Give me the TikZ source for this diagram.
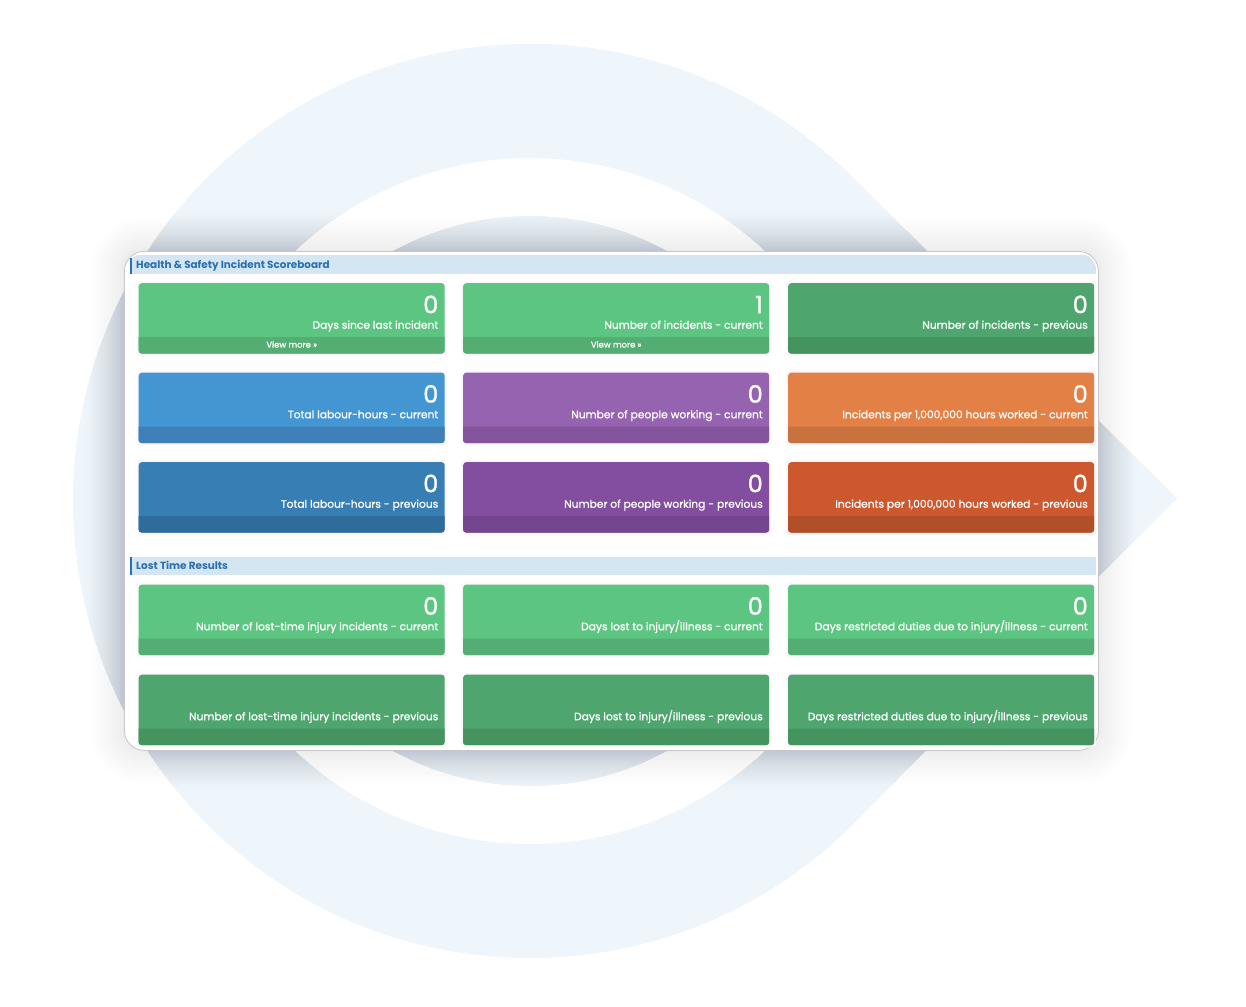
\documentclass[tikz,border=0pt]{standalone}
\usepackage{fontspec}
\setmainfont{Poppins}
\newfontfamily\heavyfont[FakeBold=1.1]{Poppins}
\definecolor{ringc}{HTML}{EEF5FB}
\definecolor{headc}{HTML}{D5E6F3}
\definecolor{headt}{HTML}{2A6FAF}
\definecolor{shada}{HTML}{303048}
\definecolor{shadb}{HTML}{1E4A60}
\definecolor{glowc}{HTML}{FDF7FC}
\definecolor{gA}{HTML}{5CC581}\definecolor{gB}{HTML}{54AD72}
\definecolor{dA}{HTML}{4EA56E}\definecolor{dB}{HTML}{45945F}
\definecolor{bA}{HTML}{4496D3}\definecolor{bB}{HTML}{3F80B8}
\definecolor{nA}{HTML}{367EB3}\definecolor{nB}{HTML}{2F6C9B}
\definecolor{pA}{HTML}{9563B0}\definecolor{pB}{HTML}{84559C}
\definecolor{qA}{HTML}{844EA0}\definecolor{qB}{HTML}{744690}
\definecolor{oA}{HTML}{E28046}\definecolor{oB}{HTML}{C8723F}
\definecolor{rA}{HTML}{CD582D}\definecolor{rB}{HTML}{B04F28}
\tikzset{
  x=1pt,y=1pt,
  cardbox/.style={anchor=north west,minimum width=306pt,minimum height=70.5pt,inner sep=0pt,rounded corners=3pt},
  numtext/.style={anchor=mid east,inner sep=0pt,text=white,font=\fontsize{24}{24}\heavyfont},
  labtext/.style={anchor=mid east,inner sep=0pt,text=white,font=\fontsize{10.7}{12}\heavyfont},
  viewtext/.style={inner sep=0pt,text=white,font=\fontsize{8.4}{9}\heavyfont},
  headtext/.style={anchor=mid west,inner sep=0pt,text=headt,font=\fontsize{10.4}{12}\selectfont\bfseries},
}
\newcommand\ringpath{(853.2,-177.8) arc[start angle=45,end angle=315,radius=457pt] -- (1177,-498) -- cycle
  (873,-501) arc[start angle=0,end angle=-360,radius=343pt] -- cycle
  (815,-501) arc[start angle=0,end angle=360,radius=285pt] -- cycle}
\newcommand\mycard[7]{%
  \fill[glowc,rounded corners=3pt] (#2-2,-#3+2) rectangle (#2+308,-#3-73);
  \node[cardbox,fill=#4] (#1) at (#2,-#3) {};
  \fill[#5] (#2,-#3-54) -- (#2+306,-#3-54) [rounded corners=3pt] -- (#2+306,-#3-70.5) -- (#2,-#3-70.5) [sharp corners] -- cycle;
  \node[numtext] (#1n) at (#2+300,-#3-27.5) {#6};
  \node[labtext] (#1l) at (#2+300,-#3-43) {#7};
}
\begin{document}
\begin{tikzpicture}
\useasboundingbox (0,0) rectangle (1246,-1006);
\fill[white] (0,0) rectangle (1246,-1006);
% ring with arrow tip
\fill[ringc] \ringpath;
% soft shadow, everywhere
\foreach \e in {60,58,...,0}{
  \pgfmathsetmacro\a{0.0066*(1-\e/62)^1.5}
  \pgfmathsetmacro\r{20+\e}
  \fill[shada,fill opacity=\a,rounded corners=\r pt] (124-\e,-251+\e) rectangle (1098+\e,-750-\e);
}
% stronger over the ring
\begin{scope}
\clip \ringpath;
\foreach \e in {60,58,...,0}{
  \pgfmathsetmacro\a{0.0095*(1-\e/62)^1.5}
  \pgfmathsetmacro\r{20+\e}
  \fill[shadb,fill opacity=\a,rounded corners=\r pt] (124-\e,-251+\e) rectangle (1098+\e,-750-\e);
}
\end{scope}
% panel
\node[anchor=north west,minimum width=974pt,minimum height=499pt,inner sep=0pt,rounded corners=20pt,fill=white,draw=black!22!white,line width=0.8pt] (panel) at (124,-251) {};
\begin{scope}
\clip[rounded corners=18pt] (126.5,-253.5) rectangle (1096.5,-747.5);
\fill[headc] (132,-255) rectangle (1097,-273.5);
\fill[headc] (132,-556.5) rectangle (1097,-575);
\end{scope}
\fill[headt] (129.5,-258) rectangle (132,-274);
\fill[headt] (129.5,-556.5) rectangle (132,-575);
\node[headtext] (h1) at (136,-265.5) {Health \& Safety Incident Scoreboard};
\node[headtext] (h2) at (136,-567) {Lost Time Results};
% cards
\mycard{a1}{138.5}{283}{gA}{gB}{0}{Days since last incident}
\mycard{a2}{463}{283}{gA}{gB}{1}{Number of incidents - current}
\mycard{a3}{788}{283}{dA}{dB}{0}{Number of incidents - previous}
\mycard{b1}{138.5}{372.5}{bA}{bB}{0}{Total labour-hours - current}
\mycard{b2}{463}{372.5}{pA}{pB}{0}{Number of people working - current}
\mycard{b3}{788}{372.5}{oA}{oB}{0}{Incidents per 1,000,000 hours worked - current}
\mycard{c1}{138.5}{462}{nA}{nB}{0}{Total labour-hours - previous}
\mycard{c2}{463}{462}{qA}{qB}{0}{Number of people working - previous}
\mycard{c3}{788}{462}{rA}{rB}{0}{Incidents per 1,000,000 hours worked - previous}
\mycard{d1}{138.5}{584.5}{gA}{gB}{0}{Number of lost-time injury incidents - current}
\mycard{d2}{463}{584.5}{gA}{gB}{0}{Days lost to injury/illness - current}
\mycard{d3}{788}{584.5}{gA}{gB}{0}{Days restricted duties due to injury/illness - current}
\mycard{e1}{138.5}{674.5}{dA}{dB}{}{Number of lost-time injury incidents - previous}
\mycard{e2}{463}{674.5}{dA}{dB}{}{Days lost to injury/illness - previous}
\mycard{e3}{788}{674.5}{dA}{dB}{}{Days restricted duties due to injury/illness - previous}
\node[viewtext] (v1) at ([yshift=9.5pt]a1.south) {View more »};
\node[viewtext] (v2) at ([yshift=9.5pt]a2.south) {View more »};
\end{tikzpicture}
\end{document}
